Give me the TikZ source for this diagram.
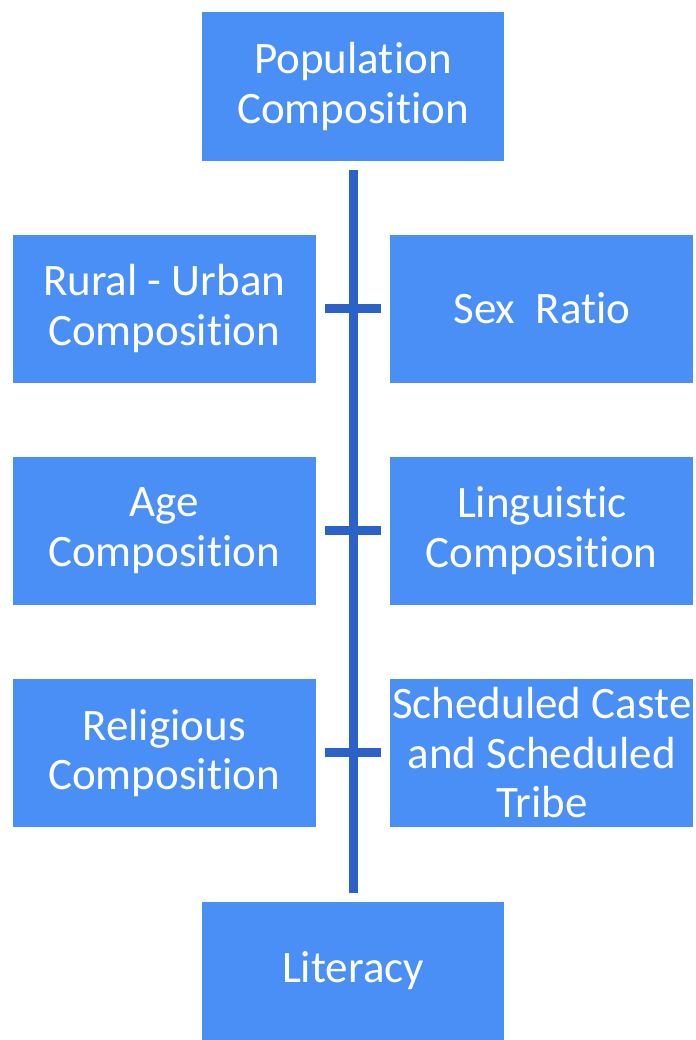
\documentclass[tikz,border=0pt]{standalone}
\usepackage{fontspec}
\setmainfont{Carlito}[Ligatures=NoCommon]
\usetikzlibrary{positioning}
\definecolor{boxblue}{HTML}{4A8FF6}
\definecolor{lineblue}{HTML}{2A62C8}

\begin{document}
\begin{tikzpicture}[x=0.025cm, y=-0.025cm, node distance =5.55cm, on
grid,
box/.style={fill=boxblue, text=white, align=center, inner sep=0pt,
minimum width=7.57cm, minimum height=3.7cm,
font=\fontsize{32}{35}\selectfont},
bar/.style={draw=lineblue, line width=0.225cm, shorten >=0.225cm, shorten <=0.225cm}]
\useasboundingbox (0,0) rectangle (696,1040);
\node [box] (pop) at (353,86.5) {Population\\Composition};
\coordinate [below = of pop] (c_1);
\coordinate [below = of c_1] (c_2);
\coordinate [below = of c_2] (c_3);
\node [box, xshift=-4.72cm] (rural) at (c_1) {Rural - Urban\\Composition};
\node [box, xshift=4.72cm] (sex) at (c_1) {Sex\ \ Ratio};
\node [box, xshift=-4.72cm] (age) at (c_2) {Age\\Composition};
\node [box, xshift=4.72cm] (ling) at (c_2) {Linguistic\\Composition};
\node [box, xshift=-4.72cm] (rel) at (c_3) {Religious\\Composition};
\node [box, xshift=4.72cm] (sc) at (c_3) {Scheduled Caste\\and Scheduled\\Tribe};
\node [box, minimum height=3.45cm] (lit) at (353,971) {Literacy};
\draw [bar] (pop) -- (lit);
\draw [bar] (rural) -- (sex);
\draw [bar] (age) -- (ling);
\draw [bar] (rel) -- (sc);
\end{tikzpicture}
\end{document}
